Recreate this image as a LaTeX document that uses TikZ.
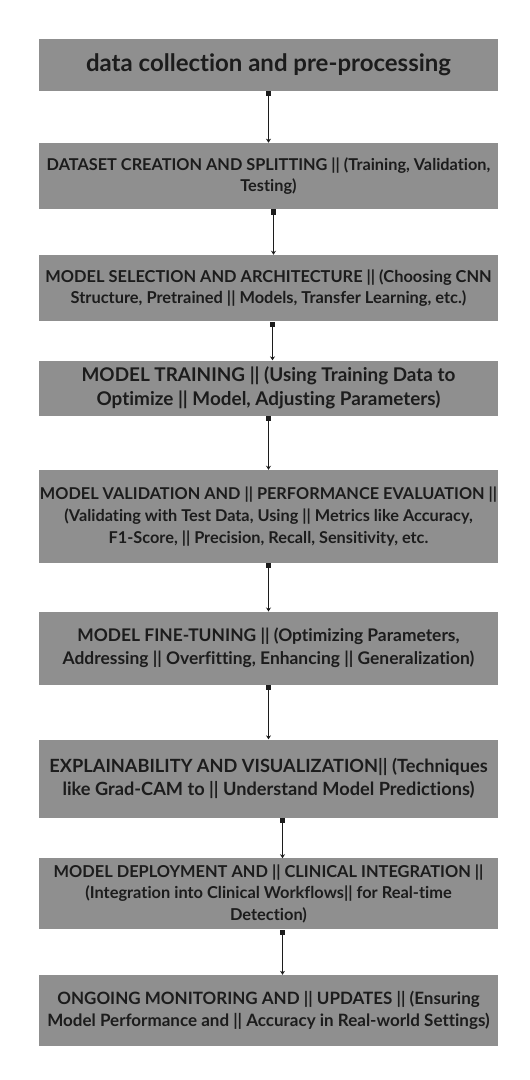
\documentclass[tikz,border=0pt]{standalone}
\usepackage{fontspec}
\setmainfont{Lato}[Ligatures={NoCommon,NoRare,NoDiscretionary}]
\usetikzlibrary{arrows.meta}
\definecolor{boxgray}{HTML}{8F8F8F}
\definecolor{inkdark}{HTML}{1C1C1C}
\tikzset{
  stage/.style={fill=boxgray, draw=none, minimum width=459pt, inner sep=0pt,
    align=center, text=inkdark},
  flow/.style={draw=inkdark, line width=1.1pt,
    {Square[length=5.5pt,width=5.5pt]}-{Stealth[length=4pt,width=5pt]}}
}
\newcommand{\fs}[2]{\fontsize{#1}{#2}\selectfont\bfseries}
\begin{document}
\begin{tikzpicture}[x=1pt,y=-1pt]
\useasboundingbox (0,0) rectangle (530,1080);
\fill[white] (0,0) rectangle (530,1080);

\node[stage, minimum height=52pt, font=\fs{24}{26}] (b1) at (268.5,64.7)
  {data collection and pre-processing};
\node[stage, minimum height=66pt, font=\fs{16.3}{21.4}] (b2) at (268.5,175.9)
  {DATASET CREATION AND SPLITTING || (Training, Validation,\\Testing)};
\node[stage, minimum height=66.5pt, font=\fs{16.4}{21.4}] (b3) at (268.5,288.2)
  {MODEL SELECTION AND ARCHITECTURE || (Choosing CNN\\Structure, Pretrained || Models, Transfer Learning, etc.)};
\node[stage, minimum height=55pt, font=\fs{18.9}{24}] (b4) at (268.5,388)
  {MODEL TRAINING || (Using Training Data to\\Optimize || Model, Adjusting Parameters)};
\node[stage, minimum height=92.7pt, font=\fs{16.3}{22}] (b5) at (268.5,516.3)
  {MODEL VALIDATION AND || PERFORMANCE EVALUATION ||\\(Validating with Test Data, Using || Metrics like Accuracy,\\F1-Score, || Precision, Recall, Sensitivity, etc.};
\node[stage, minimum height=73pt, font=\fs{17.4}{23}] (b6) at (268.5,648.2)
  {MODEL FINE-TUNING || (Optimizing Parameters,\\Addressing || Overfitting, Enhancing || Generalization)};
\node[stage, minimum height=78pt, font=\fs{18.2}{23.5}] (b7) at (268.5,778.5)
  {EXPLAINABILITY AND VISUALIZATION|| (Techniques\\like Grad-CAM to || Understand Model Predictions)};
\node[stage, minimum height=71pt, font=\fs{16.4}{21.7}] (b8) at (268.5,893.9)
  {MODEL DEPLOYMENT AND || CLINICAL INTEGRATION ||\\(Integration into Clinical Workflows|| for Real-time\\Detection)};
\node[stage, minimum height=71pt, font=\fs{17}{22}] (b9) at (268.5,1010.5)
  {ONGOING MONITORING AND || UPDATES || (Ensuring\\Model Performance and || Accuracy in Real-world Settings)};

% connectors between consecutive stages
\draw[flow] (b1.south) -- (b2.north);
\draw[flow] ([xshift=5pt]b2.south) -- ([xshift=5pt]b3.north);
\draw[flow] ([xshift=4pt]b3.south) -- ([xshift=4pt]b4.north);
\draw[flow] (b4.south) -- (b5.north);
\draw[flow] (b5.south) -- (b6.north);
\draw[flow] (b6.south) -- (b7.north);
\draw[flow] ([xshift=14pt]b7.south) -- ([xshift=14pt]b8.north);
\draw[flow] ([xshift=14pt]b8.south) -- ([xshift=14pt]b9.north);
\end{tikzpicture}
\end{document}
